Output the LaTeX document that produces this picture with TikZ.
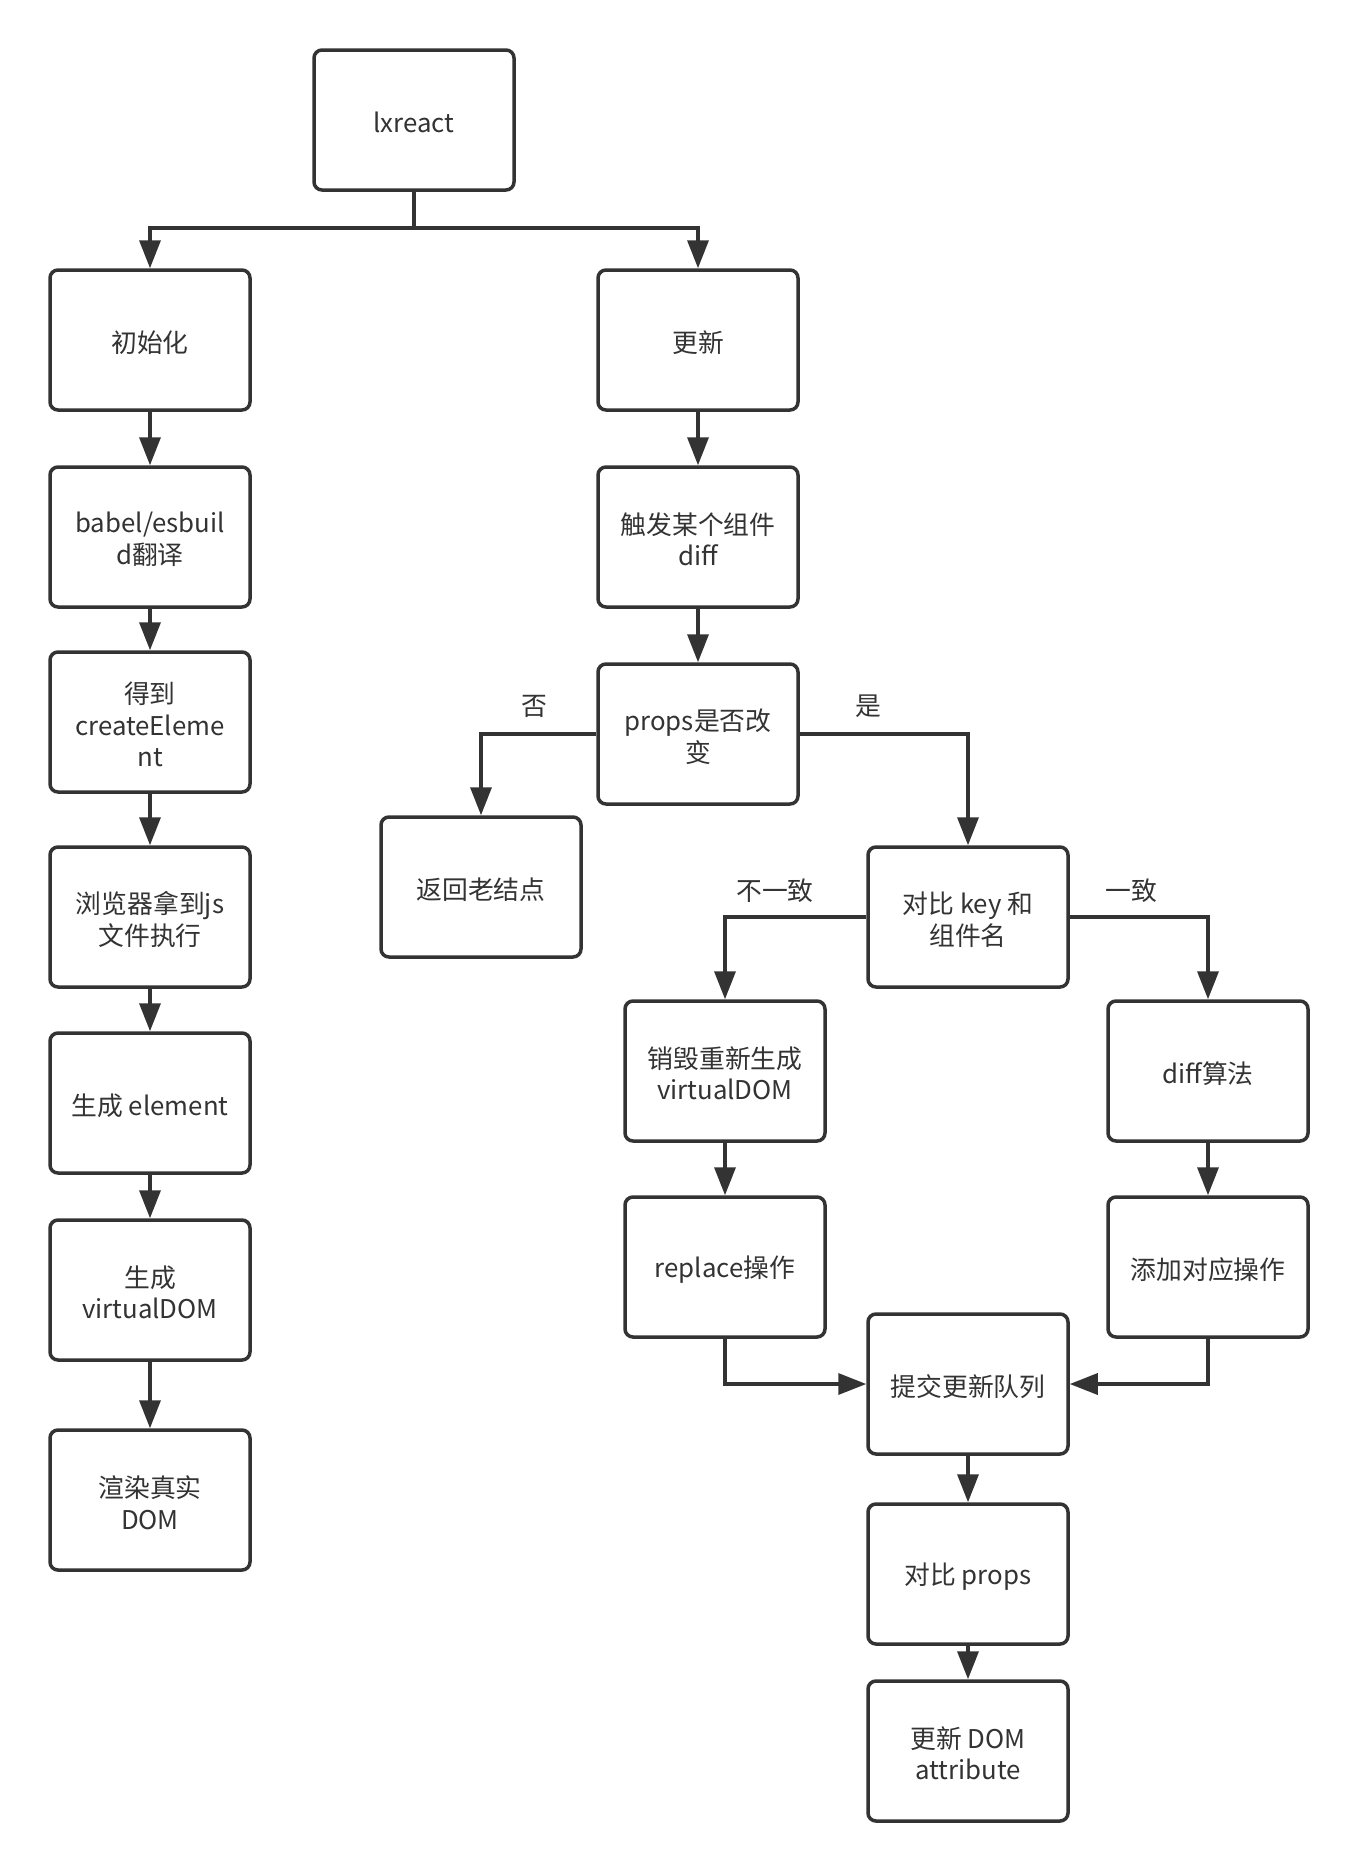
\documentclass[tikz,border=0pt]{standalone}
\usepackage{fontspec}
\setmainfont{Noto Sans CJK SC}
\usetikzlibrary{arrows.meta}
\definecolor{ink}{HTML}{333333}
\begin{document}
\begin{tikzpicture}[x=1pt,y=-1pt,
  txt/.style={text=ink, align=center, inner sep=0pt,
    font=\fontsize{25.8pt}{31.5pt}\selectfont},
  box/.style={draw=ink, line width=3.5pt, rounded corners=8pt, fill=white,
    minimum width=200pt, minimum height=140pt, inner sep=0pt,
    label={[txt, yshift=-2.5pt]center:#1}},
  link/.style={draw=ink, line width=3.5pt},
  arr/.style={link, -{Triangle[length=28pt,width=21pt]}},
  lbl/.style={txt}]
\useasboundingbox (0,0) rectangle (1358,1871);
\fill[white] (0,0) rectangle (1358,1871);

% initialisation column
\node[box={lxreact}] (lxreact) at (414,120) {};
\node[box={初始化}] (init) at (150,340) {};
\node[box={babel/esbuil\\d翻译}] (babel) at (150,537) {};
\node[box={得到\\createEleme\\nt}] (dedao) at (150,722) {};
\node[box={浏览器拿到js\\文件执行}] (browser) at (150,917) {};
\node[box={生成 element}] (elem) at (150,1103) {};
\node[box={生成\\virtualDOM}] (vdom) at (150,1290) {};
\node[box={渲染真实\\DOM}] (render) at (150,1500) {};

% update branch
\node[box={更新}] (update) at (698,340) {};
\node[box={触发某个组件\\diff}] (trigger) at (698,537) {};
\node[box={props是否改\\变}] (props) at (698,734) {};
\node[box={返回老结点}] (ret) at (481,887) {};
\node[box={对比 key 和\\组件名}] (cmpkey) at (968,917) {};
\node[box={销毁重新生成\\virtualDOM}] (destroy) at (725,1071) {};
\node[box={diff算法}] (diffalg) at (1208,1071) {};
\node[box={replace操作}] (replace) at (725,1267) {};
\node[box={添加对应操作}] (addop) at (1208,1267) {};
\node[box={提交更新队列}] (commit) at (968,1384) {};
\node[box={对比 props}] (cmpprops) at (968,1574) {};
\node[box={更新 DOM\\attribute}] (upddom) at (968,1751) {};

% connectors
\coordinate (split) at (414,228);
\draw[link] (lxreact.south) -- (split);
\draw[arr] (split) -| (init.north);
\draw[arr] (split) -| (update.north);

\draw[arr] (init) -- (babel);
\draw[arr] (babel) -- (dedao);
\draw[arr] (dedao) -- (browser);
\draw[arr] (browser) -- (elem);
\draw[arr] (elem) -- (vdom);
\draw[arr] (vdom) -- (render);

\draw[arr] (update) -- (trigger);
\draw[arr] (trigger) -- (props);
\draw[arr] (props.west) -| (ret.north);
\draw[arr] (props.east) -| (cmpkey.north);
\draw[arr] (cmpkey.west) -| (destroy.north);
\draw[arr] (cmpkey.east) -| (diffalg.north);
\draw[arr] (destroy) -- (replace);
\draw[arr] (diffalg) -- (addop);
\draw[arr] (replace.south) |- (commit.west);
\draw[arr] (addop.south) |- (commit.east);
\draw[arr] (commit) -- (cmpprops);
\draw[arr] (cmpprops) -- (upddom);

% branch labels
\node[lbl] (no)    at (534,706) {否};
\node[lbl] (yes)   at (868,706) {是};
\node[lbl] (diffk) at (775,891) {不一致};
\node[lbl] (samek) at (1131,891) {一致};
\end{tikzpicture}
\end{document}
